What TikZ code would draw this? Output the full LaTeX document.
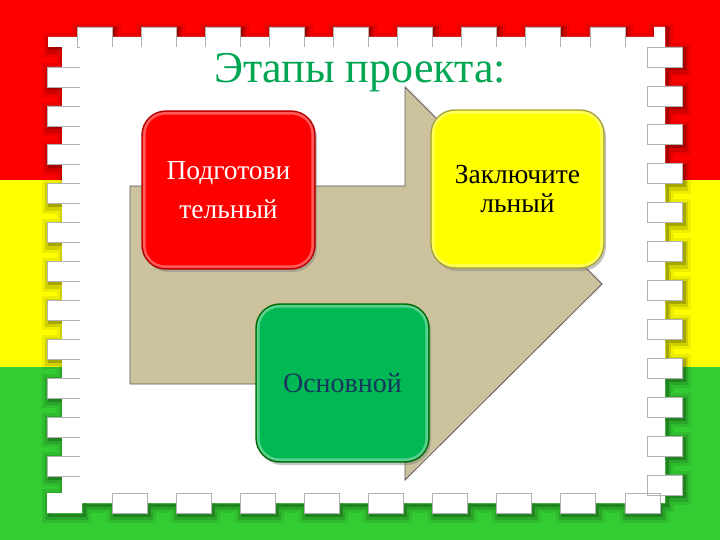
\documentclass[tikz,border=0pt]{standalone}
\usepackage{fontspec}
\setmainfont{Liberation Serif}
\usepackage{tikz}
\usetikzlibrary{positioning,shapes,shadows}
\definecolor{bandred}{RGB}{255,0,0}
\definecolor{bandyellow}{RGB}{255,255,0}
\definecolor{bandgreen}{RGB}{51,204,51}
\definecolor{arrowtan}{RGB}{204,195,158}
\definecolor{titlegreen}{RGB}{0,166,81}
\definecolor{stagegreen}{RGB}{0,184,84}
\definecolor{navytext}{RGB}{23,54,93}
\tikzstyle{stage}=[rectangle, rounded corners=24pt, minimum width=173pt, minimum height=158pt, line width=1.4pt, align=center, drop shadow={opacity=0.45, shadow xshift=2pt, shadow yshift=-3pt}]
\tikzstyle{arrowbody}=[fill=arrowtan, draw=black!65, line width=0.8pt]
\tikzstyle{toothedge}=[black!30, line width=0.6pt]
\tikzstyle{gloss}=[white, opacity=0.35, line width=2.5pt, rounded corners=21pt]
\tikzset{
    stamp shape/.pic={
        \path[pic actions] (62,37) rectangle (665,503) (48,37) rectangle (62,47) (654,27) rectangle (665,47)
            (47,493) rectangle (82,513)
            \foreach \k in {0,...,8}{ ({77+64.1*\k},27) rectangle ({112+64.1*\k},47) }
            \foreach \k in {0,...,8}{ ({112+64.1*\k},493) rectangle ({147+64.1*\k},513) }
            \foreach \k in {0,...,10}{ (47,{67+38.9*\k}) rectangle (80,{87+38.9*\k}) }
            \foreach \k in {0,...,11}{ (647,{47+38.9*\k}) rectangle (682,{67+38.9*\k}) };
    }
}

\begin{document}
\begin{tikzpicture}[x=1pt, y=-1pt]
    \useasboundingbox (0,0) rectangle (720,540);

    % flag bands
    \fill[bandred] (0,0) rectangle (720,180);
    \fill[bandyellow] (0,180) rectangle (720,367);
    \fill[bandgreen] (0,367) rectangle (720,540);

    % soft shadow of the stamp
    \pic[draw=black, opacity=0.07, line width=14pt] at (2,3) {stamp shape};
    \pic[draw=black, opacity=0.12, line width=8pt] at (2,3) {stamp shape};
    \pic[draw=black, opacity=0.2, line width=3pt] at (2,2) {stamp shape};

    % stamp frame with teeth
    \pic[fill=white] {stamp shape};
    \foreach \k in {0,...,8}{
        \draw[toothedge] ({77+64.1*\k},27) rectangle ({112+64.1*\k},47);
        \draw[toothedge] ({112+64.1*\k},493) rectangle ({147+64.1*\k},513);
    };
    \foreach \k in {0,...,10}
        \draw[toothedge] (47,{67+38.9*\k}) rectangle (80,{87+38.9*\k});
    \foreach \k in {0,...,11}
        \draw[toothedge] (647,{47+38.9*\k}) rectangle (682,{67+38.9*\k});
    \fill[white] (80,47) rectangle (647,493);

    % title
    \node (title) [anchor=base, text=titlegreen, font=\fontsize{44}{53}\selectfont] at (360,83) {Этапы проекта:};

    % big arrow
    \draw[arrowbody] (130,186) -- (405,186) -- (405,87) -- (602,284) -- (405,480) -- (405,384) -- (130,384) -- cycle;

    % stages
    \node (prep) [stage, fill=bandred, draw=red!70!black, text=white, font=\fontsize{27.5}{39}\selectfont] at (228.5,190) {Подготови\\тельный};
    \node (final) [stage, fill=bandyellow, draw=yellow!60!black, text=black, font=\fontsize{27.5}{29}\selectfont] at (517.5,189) {Заключите\\льный};
    \node (main) [stage, fill=stagegreen, draw=green!40!black, text=navytext, font=\fontsize{28}{31}\selectfont] at (342.5,383) {Основной};

    % light rim inside each stage
    \foreach \s in {prep,final,main}
        \draw[gloss] ([shift={(3,3)}]\s.north west) rectangle ([shift={(-3,-3)}]\s.south east);

\end{tikzpicture}
\end{document}
